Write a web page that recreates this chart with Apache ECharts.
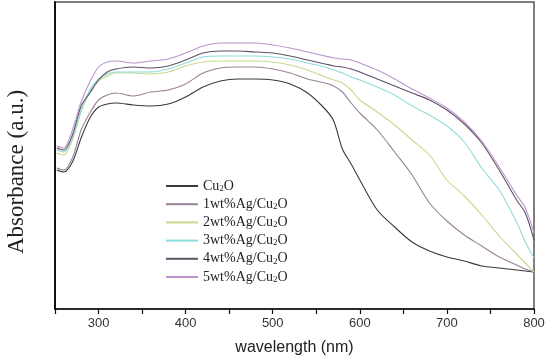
<!DOCTYPE html>
<html>
<head>
<meta charset="utf-8">
<script src="https://cdn.jsdelivr.net/npm/echarts@6/dist/echarts.min.js"></script>
<style>
html,body{margin:0;padding:0;background:#fff;}
#chart{width:550px;height:363px;}
</style>
</head>
<body>
<div id="chart"></div>
<script>
// Wavelengths (nm)
var wavelengths = [252,260,270,280,290,300,310,320,340,360,380,400,420,440,460,480,500,520,540,560,570,580,590,600,620,640,660,680,700,720,740,760,780,790,800];

// Absorbance (a.u.) per sample
var cu2o = [1.39,1.37,1.47,1.71,1.91,2.02,2.05,2.06,2.04,2.03,2.05,2.12,2.22,2.28,2.30,2.30,2.29,2.25,2.16,2.00,1.88,1.60,1.45,1.29,0.99,0.82,0.67,0.58,0.52,0.48,0.43,0.41,0.39,0.38,0.37];
var ag1 = [1.41,1.39,1.51,1.79,1.96,2.09,2.14,2.16,2.13,2.17,2.19,2.25,2.36,2.41,2.42,2.42,2.40,2.36,2.30,2.26,2.23,2.17,2.06,1.96,1.79,1.57,1.34,1.06,0.88,0.74,0.63,0.52,0.44,0.40,0.37];
var ag2 = [1.56,1.54,1.69,1.97,2.17,2.28,2.33,2.36,2.36,2.35,2.37,2.43,2.47,2.48,2.48,2.48,2.47,2.44,2.39,2.32,2.29,2.26,2.19,2.09,1.97,1.84,1.69,1.54,1.29,1.13,0.94,0.73,0.55,0.46,0.37];
var ag3 = [1.59,1.57,1.71,1.99,2.19,2.30,2.35,2.37,2.37,2.37,2.40,2.46,2.52,2.53,2.53,2.53,2.52,2.50,2.46,2.42,2.39,2.36,2.32,2.29,2.22,2.14,2.03,1.94,1.83,1.67,1.41,1.19,0.87,0.67,0.51];
var ag4 = [1.61,1.59,1.74,2.03,2.16,2.29,2.37,2.40,2.42,2.41,2.43,2.49,2.56,2.58,2.58,2.57,2.56,2.53,2.49,2.45,2.43,2.42,2.40,2.37,2.30,2.23,2.16,2.09,1.99,1.85,1.66,1.39,1.09,0.96,0.69];
var ag5 = [1.63,1.61,1.79,2.07,2.27,2.42,2.47,2.48,2.46,2.48,2.50,2.56,2.63,2.66,2.66,2.66,2.64,2.61,2.57,2.53,2.51,2.50,2.49,2.46,2.39,2.30,2.20,2.11,2.01,1.87,1.68,1.42,1.14,1.01,0.76];

var seriesNames = ['Cu2O','1wt%Ag/Cu2O','2wt%Ag/Cu2O','3wt%Ag/Cu2O','4wt%Ag/Cu2O','5wt%Ag/Cu2O'];
var seriesValues = [cu2o, ag1, ag2, ag3, ag4, ag5];
var seriesColors = ['#3a3a3a','#9a8296','#c6d98c','#8edcdc','#5e5266','#bc94cc'];

var xTicks = [300,400,500,600,700,800];

function pairs(vals){
  return wavelengths.map(function(w,i){return [w, vals[i]];});
}

var chart = echarts.init(document.getElementById('chart'));
var series = seriesNames.map(function(n,i){
  return {
    name: n,
    type: 'line',
    data: pairs(seriesValues[i]),
    smooth: 0.3,
    symbol: 'none',
    lineStyle: {color: seriesColors[i], width: 1.1},
    itemStyle: {color: seriesColors[i]},
    animation: false
  };
});

chart.setOption({
  backgroundColor: '#fff',
  animation: false,
  grid: {left: 55, right: 16, top: 2, bottom: 54, show: true, borderColor: '#555', borderWidth: 1.5},
  xAxis: {
    type: 'value', min: 250, max: 800, interval: 50,
    name: 'wavelength (nm)', nameLocation: 'middle', nameGap: 31,
    nameTextStyle: {fontFamily: 'Liberation Sans', fontSize: 16, color: '#222'},
    axisLine: {show: true, onZero: false, lineStyle: {color: '#111', width: 1.5}},
    axisTick: {show: true, inside: false, length: 5, lineStyle: {color: '#111', width: 1.2}},
    axisLabel: {
      fontFamily: 'Liberation Sans', fontSize: 13, color: '#333', margin: 8,
      formatter: function(v){ return xTicks.indexOf(v) >= 0 ? String(v) : ''; }
    },
    splitLine: {show: false}
  },
  yAxis: {
    type: 'value', min: 0, max: 3.07,
    axisLine: {show: true, lineStyle: {color: '#111', width: 2}},
    axisTick: {show: false}, axisLabel: {show: false}, splitLine: {show: false}
  },
  legend: {
    orient: 'vertical', left: 166, top: 178, padding: 0,
    itemWidth: 32, itemHeight: 2, itemGap: 3.2,
    icon: 'rect',
    data: seriesNames,
    formatter: function(n){ return n.replace('Cu2O', 'Cu{s|2}O').replace(/^([^{]*)Cu/, '{t|$1}Cu').replace(/^Cu/, '{t|Cu}'); },
    textStyle: {
      fontFamily: 'Liberation Serif', fontSize: 14, color: '#222', lineHeight: 14,
      rich: {
        t: {fontFamily: 'Liberation Serif', fontSize: 14, color: '#222', lineHeight: 14},
        s: {fontFamily: 'Liberation Serif', fontSize: 9, color: '#222', verticalAlign: 'bottom', lineHeight: 14, padding: [6,0,0,0]}
      }
    }
  },
  graphic: [{
    type: 'text', x: 17, y: 172, rotation: Math.PI/2, origin: [0,0],
    style: {text: 'Absorbance (a.u.)', font: '23px "Liberation Serif"', fill: '#222', align: 'center', verticalAlign: 'middle'}
  }],
  series: series
});
</script>
</body>
</html>
